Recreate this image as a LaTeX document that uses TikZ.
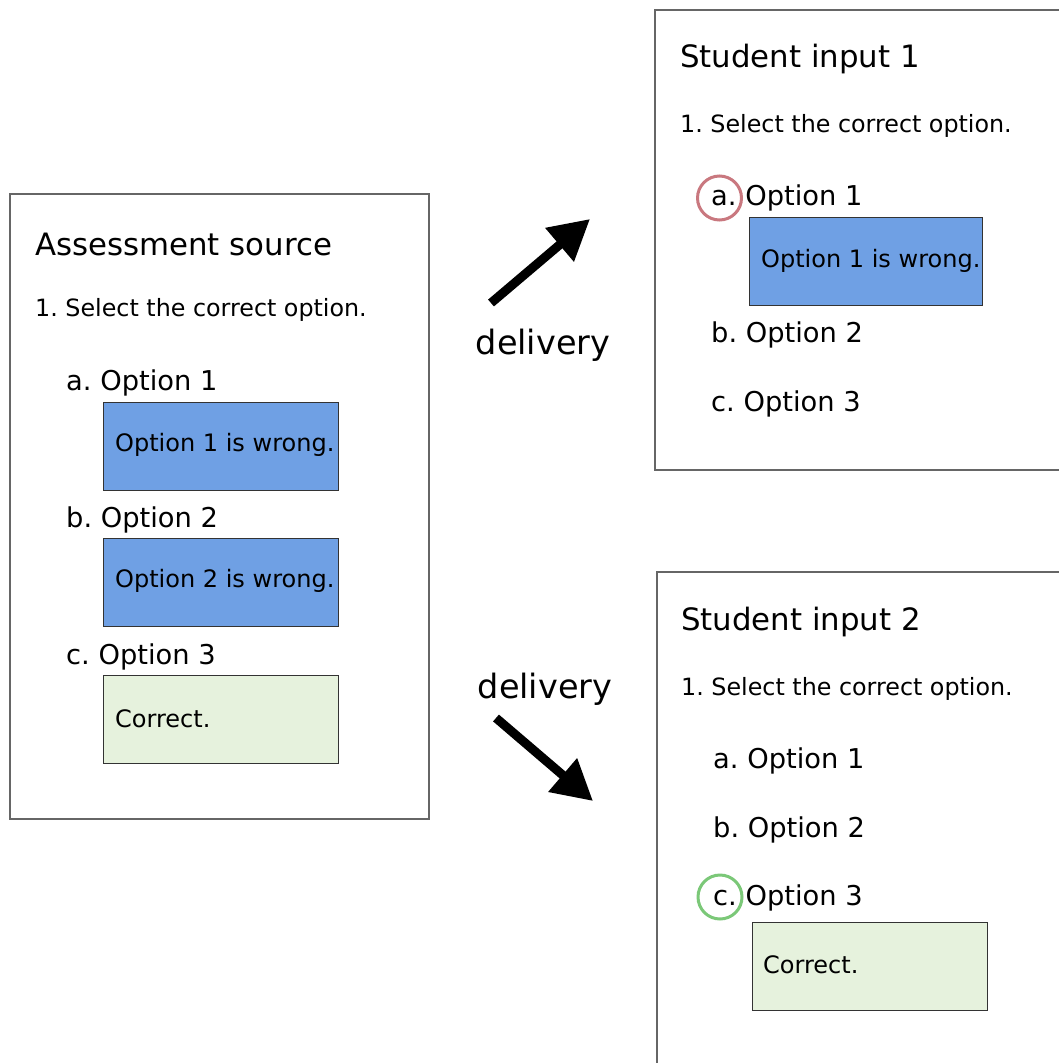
\documentclass[tikz,border=0pt]{standalone}
\usepackage{fontspec}
\setmainfont{DejaVu Sans}
\usetikzlibrary{arrows.meta}
\frenchspacing
\definecolor{fbblue}{HTML}{6FA0E4}
\definecolor{fbgreen}{HTML}{E6F2DD}
\definecolor{ringred}{HTML}{C9787F}
\definecolor{ringgreen}{HTML}{7BC878}
\definecolor{frame}{HTML}{666666}
\tikzset{
  panel/.style={draw=frame, line width=1.3pt, fill=white},
  fbbox/.style={draw=black!80, line width=1.2pt, minimum width=235pt, minimum height=88pt, inner sep=0pt},
  titletxt/.style={anchor=west, inner sep=0pt, font=\fontsize{30.8}{36}\selectfont},
  qtxt/.style={anchor=west, inner sep=0pt, font=\fontsize{23.8}{28}\selectfont},
  opttxt/.style={anchor=west, inner sep=0pt, font=\fontsize{27.3}{32}\selectfont},
  fbtxt/.style={anchor=west, inner sep=0pt, font=\fontsize{24}{28}\selectfont},
  deltxt/.style={inner sep=0pt, font=\fontsize{33.5}{40}\selectfont},
  ring/.style={circle, line width=3pt, minimum size=44pt, inner sep=0pt},
  bigarrow/.style={line width=9pt, -{Triangle[length=40pt,width=42pt]}}
}
\begin{document}
\begin{tikzpicture}[x=1pt,y=-1pt]
\useasboundingbox (0,0) rectangle (1059,1063);
% left panel
\draw[panel] (10,194) rectangle (429,819);
\node[titletxt] (srctitle) at (35,244) {Assessment source};
\node[qtxt] (srcq) at (35,310) {1. Select the correct option.};
\node[opttxt] (srca) at (66,383) {a. Option 1};
\node[fbbox, fill=fbblue, anchor=north west] (srcfa) at (103,402) {};
\node[fbtxt] at (115,445) {Option 1 is wrong.};
\node[opttxt] (srcb) at (66,520) {b. Option 2};
\node[fbbox, fill=fbblue, anchor=north west] (srcfb) at (103,538) {};
\node[fbtxt] at (115,581) {Option 2 is wrong.};
\node[opttxt] (srcc) at (66,657) {c. Option 3};
\node[fbbox, fill=fbgreen, anchor=north west] (srcfc) at (103,675) {};
\node[fbtxt] at (115,719) {Correct.};
% top right panel
\draw[panel] (655,10) rectangle (1075,470);
\node[titletxt] (s1title) at (680,59) {Student input 1};
\node[qtxt] (s1q) at (680,126) {1. Select the correct option.};
\node[opttxt] (s1a) at (711,198) {a. Option 1};
\node[ring, draw=ringred] (s1ring) at (719.5,198) {};
\node[fbbox, fill=fbblue, minimum width=233pt, anchor=north west] (s1fa) at (749,217) {};
\node[fbtxt] at (761,261) {Option 1 is wrong.};
\node[opttxt] (s1b) at (711,335) {b. Option 2};
\node[opttxt] (s1c) at (711,404) {c. Option 3};
% bottom right panel
\draw[panel] (657,572) rectangle (1075,1080);
\node[titletxt] (s2title) at (681,622) {Student input 2};
\node[qtxt] (s2q) at (681,689) {1. Select the correct option.};
\node[opttxt] (s2a) at (713,761) {a. Option 1};
\node[opttxt] (s2b) at (713,830) {b. Option 2};
\node[opttxt] (s2c) at (713,898) {c. Option 3};
\node[ring, draw=ringgreen] (s2ring) at (720,897) {};
\node[fbbox, fill=fbgreen, anchor=north west] (s2fc) at (752,922) {};
\node[fbtxt] at (763,965) {Correct.};
% arrows
\coordinate (a1s) at (491,303);
\coordinate (a1e) at (590,219);
\coordinate (a2s) at (496,718);
\coordinate (a2e) at (593,801);
\draw[bigarrow] (a1s) -- (a1e);
\draw[bigarrow] (a2s) -- (a2e);
\node[deltxt] (del1) at (543,345) {delivery};
\node[deltxt] (del2) at (545,689) {delivery};
\end{tikzpicture}
\end{document}
